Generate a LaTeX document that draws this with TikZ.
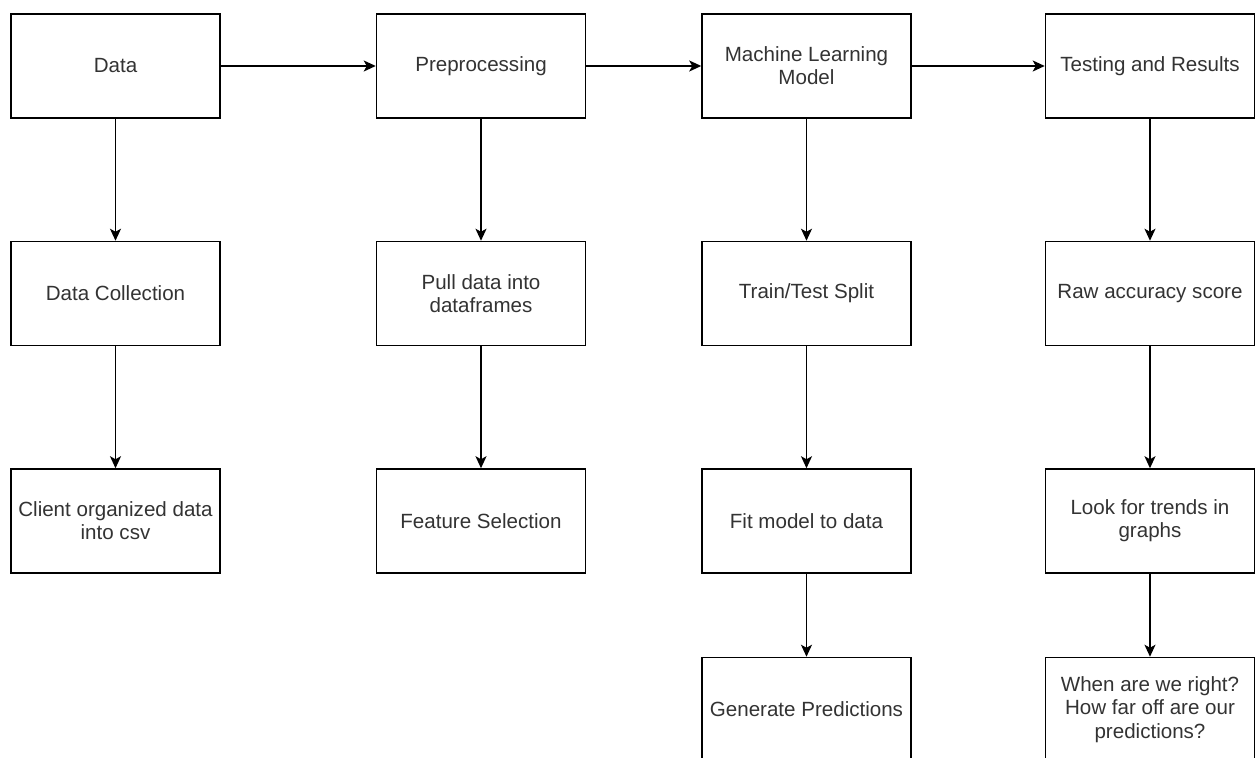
\documentclass[tikz,border=0pt]{standalone}
\usepackage{fontspec}
\setmainfont{Liberation Sans}
\usepackage{xcolor}
\usepackage{tikz}
\usetikzlibrary{arrows.meta,positioning}
\definecolor{boxtext}{HTML}{333333}

\begin{document}
\begin{tikzpicture}[
  stage/.style={draw=black,line width=0.85pt,fill=white,minimum width=4.18cm,minimum height=2.08cm,
    align=center,text=boxtext,font=\fontsize{11.7}{13.2}\selectfont,inner sep=1pt},
  flow/.style={-{Stealth[length=2.4mm,width=2.2mm,inset=0.6mm]},line width=0.85pt}]
  \useasboundingbox (0,0) rectangle (25.14,-15.16);
  \clip (0,0) rectangle (25.14,-15.16);
  % top row
  \node[stage] (data) at (2.31,-1.32) {Data};
  \node[stage,right=3.10cm of data] (prep) {Preprocessing};
  \node[stage,right=2.30cm of prep] (model) {Machine Learning\\Model};
  \node[stage,right=2.66cm of model] (test) {Testing and Results};
  % second row
  \node[stage,below=2.44cm of data] (collect) {Data Collection};
  \node[stage,below=2.44cm of prep] (pull) {Pull data into\\dataframes};
  \node[stage,below=2.44cm of model] (split) {Train/Test Split};
  \node[stage,below=2.44cm of test] (score) {Raw accuracy score};
  % third row
  \node[stage,below=2.44cm of collect] (client) {Client organized data\\into csv};
  \node[stage,below=2.44cm of pull] (feat) {Feature Selection};
  \node[stage,below=2.44cm of split] (fit) {Fit model to data};
  \node[stage,below=2.44cm of score] (trends) {Look for trends in\\graphs};
  % fourth row
  \node[stage,below=1.66cm of fit] (pred) {Generate Predictions};
  \node[stage,below=1.66cm of trends] (right) {When are we right?\\How far off are our\\predictions?};
  \draw[flow] (data)--(prep);
  \draw[flow] (prep)--(model);
  \draw[flow] (model)--(test);
  \draw[flow] (data)--(collect);
  \draw[flow] (collect)--(client);
  \draw[flow] (prep)--(pull);
  \draw[flow] (pull)--(feat);
  \draw[flow] (model)--(split);
  \draw[flow] (split)--(fit);
  \draw[flow] (fit)--(pred);
  \draw[flow] (test)--(score);
  \draw[flow] (score)--(trends);
  \draw[flow] (trends)--(right);
\end{tikzpicture}
\end{document}
